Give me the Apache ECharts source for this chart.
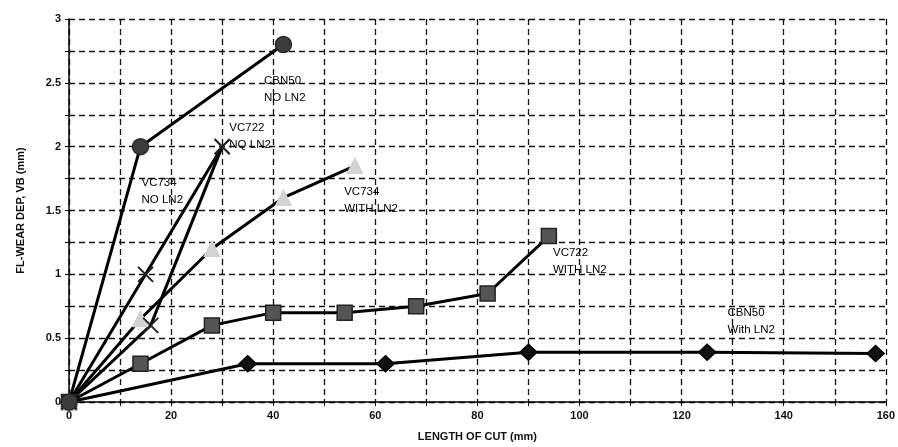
<!DOCTYPE html>
<html>
<head>
<meta charset="utf-8">
<script src="https://cdn.jsdelivr.net/npm/echarts@6/dist/echarts.min.js"></script>
<style>
  html, body { margin: 0; padding: 0; background: #fff; }
  #chart { width: 898px; height: 447px; }
</style>
</head>
<body>
<div id="chart"></div>
<script>
// data: [length of cut (mm), flank wear VB (mm)]
const cbn50NoLn2 = [[0, 0], [14, 2.0], [42, 2.8]]
const vc722NoLn2 = [[0, 0], [16, 0.6], [30, 2.0]]
const vc734NoLn2 = [[0, 0], [15, 1.0], [30, 2.0]]
const vc734WithLn2 = [[0, 0], [14, 0.65], [28, 1.2], [42, 1.6], [56, 1.85]]
const vc722WithLn2 = [[0, 0], [14, 0.3], [28, 0.6], [40, 0.7], [54, 0.7], [68, 0.75], [82, 0.85], [94, 1.3]]
const cbn50WithLn2 = [[0, 0], [35, 0.3], [62, 0.3], [90, 0.39], [125, 0.39], [158, 0.38]]

// annotation text and where it sits (data coords of its left/middle)
const notes = [
  { text: 'CBN50\nNO LN2', at: [38.2, 2.45] },
  { text: 'VC722\nNQ LN2', at: [31.4, 2.08] },
  { text: 'VC734\nNO LN2', at: [14.2, 1.65] },
  { text: 'VC734\nWITH LN2', at: [53.9, 1.58] },
  { text: 'VC722\nWITH LN2', at: [94.8, 1.1] },
  { text: 'CBN50\nWith LN2', at: [129, 0.63] }
]

const xTicks = [0, 20, 40, 60, 80, 100, 120, 140, 160]
const yTicks = [0, 0.5, 1, 1.5, 2, 2.5, 3]

const font = 'Liberation Sans, Arial, sans-serif'
const crossPath = 'path://M0,0L10,10M10,0L0,10'

function line(name, data, symbol, size, fill, border, bw) {
  return {
    name: name,
    type: 'line',
    data: data,
    symbol: symbol,
    symbolSize: size,
    showAllSymbol: true,
    lineStyle: { color: '#000', width: 3 },
    itemStyle: { color: fill, borderColor: border, borderWidth: bw || 1.5 },
    z: 3
  }
}

const chart = echarts.init(document.getElementById('chart'))

const series = [
  line('CBN50 With LN2', cbn50WithLn2, 'diamond', [17, 16], '#111', '#000'),
  line('VC722 With LN2', vc722WithLn2, 'rect', 15, '#555', '#222'),
  line('VC734 With LN2', vc734WithLn2, 'triangle', 15, '#d2d2d2', '#d2d2d2'),
  line('VC734 NO LN2', vc734NoLn2, crossPath, 15, 'none', '#222', 2),
  line('VC722 NO LN2', vc722NoLn2, crossPath, 15, 'none', '#222', 2),
  line('CBN50 NO LN2', cbn50NoLn2, 'circle', 16, '#3c3c3c', '#2a2a2a')
]

// text annotations placed via an invisible scatter
series.push({
  type: 'scatter',
  symbolSize: 0,
  silent: true,
  data: notes.map(n => ({ value: n.at, name: n.text })),
  itemStyle: { opacity: 1 },
  label: {
    show: true,
    position: 'right',
    distance: 0,
    formatter: p => p.name,
    color: '#000',
    fontFamily: font,
    fontSize: 11.5,
    lineHeight: 17,
    align: 'left'
  },
  z: 5
})

chart.setOption({
  animation: false,
  backgroundColor: '#fff',
  grid: { left: 69, right: 9, top: 19, bottom: 44 },
  xAxis: {
    type: 'value',
    min: 0,
    max: 160,
    interval: 10,
    name: 'LENGTH OF CUT (mm)',
    nameLocation: 'middle',
    nameGap: 29,
    nameTextStyle: { color: '#111', fontFamily: font, fontSize: 11, fontWeight: 'bold' },
    axisLine: { onZero: false, lineStyle: { color: '#000', width: 1.5 } },
    axisTick: { show: true, length: 4, lineStyle: { color: '#000' } },
    axisLabel: {
      color: '#111', fontFamily: font, fontSize: 11, fontWeight: 'bold', margin: 8,
      formatter: v => xTicks.includes(v) ? String(v) : ''
    },
    splitLine: { show: true, lineStyle: { color: '#111', type: [6, 4], width: 1.3 } }
  },
  yAxis: {
    type: 'value',
    min: 0,
    max: 3,
    interval: 0.25,
    name: 'FL-WEAR DEP, VB (mm)',
    nameLocation: 'middle',
    nameGap: 43,
    nameTextStyle: { color: '#111', fontFamily: font, fontSize: 11, fontWeight: 'bold' },
    axisLine: { show: true, lineStyle: { color: '#000', width: 1.5 } },
    axisTick: { show: true, length: 4, lineStyle: { color: '#000' } },
    axisLabel: {
      color: '#111', fontFamily: font, fontSize: 11, fontWeight: 'bold', margin: 8,
      formatter: v => yTicks.includes(v) ? String(v) : ''
    },
    splitLine: { show: true, lineStyle: { color: '#111', type: [6, 4], width: 1.3 } }
  },
  series: series
})
</script>
</body>
</html>
